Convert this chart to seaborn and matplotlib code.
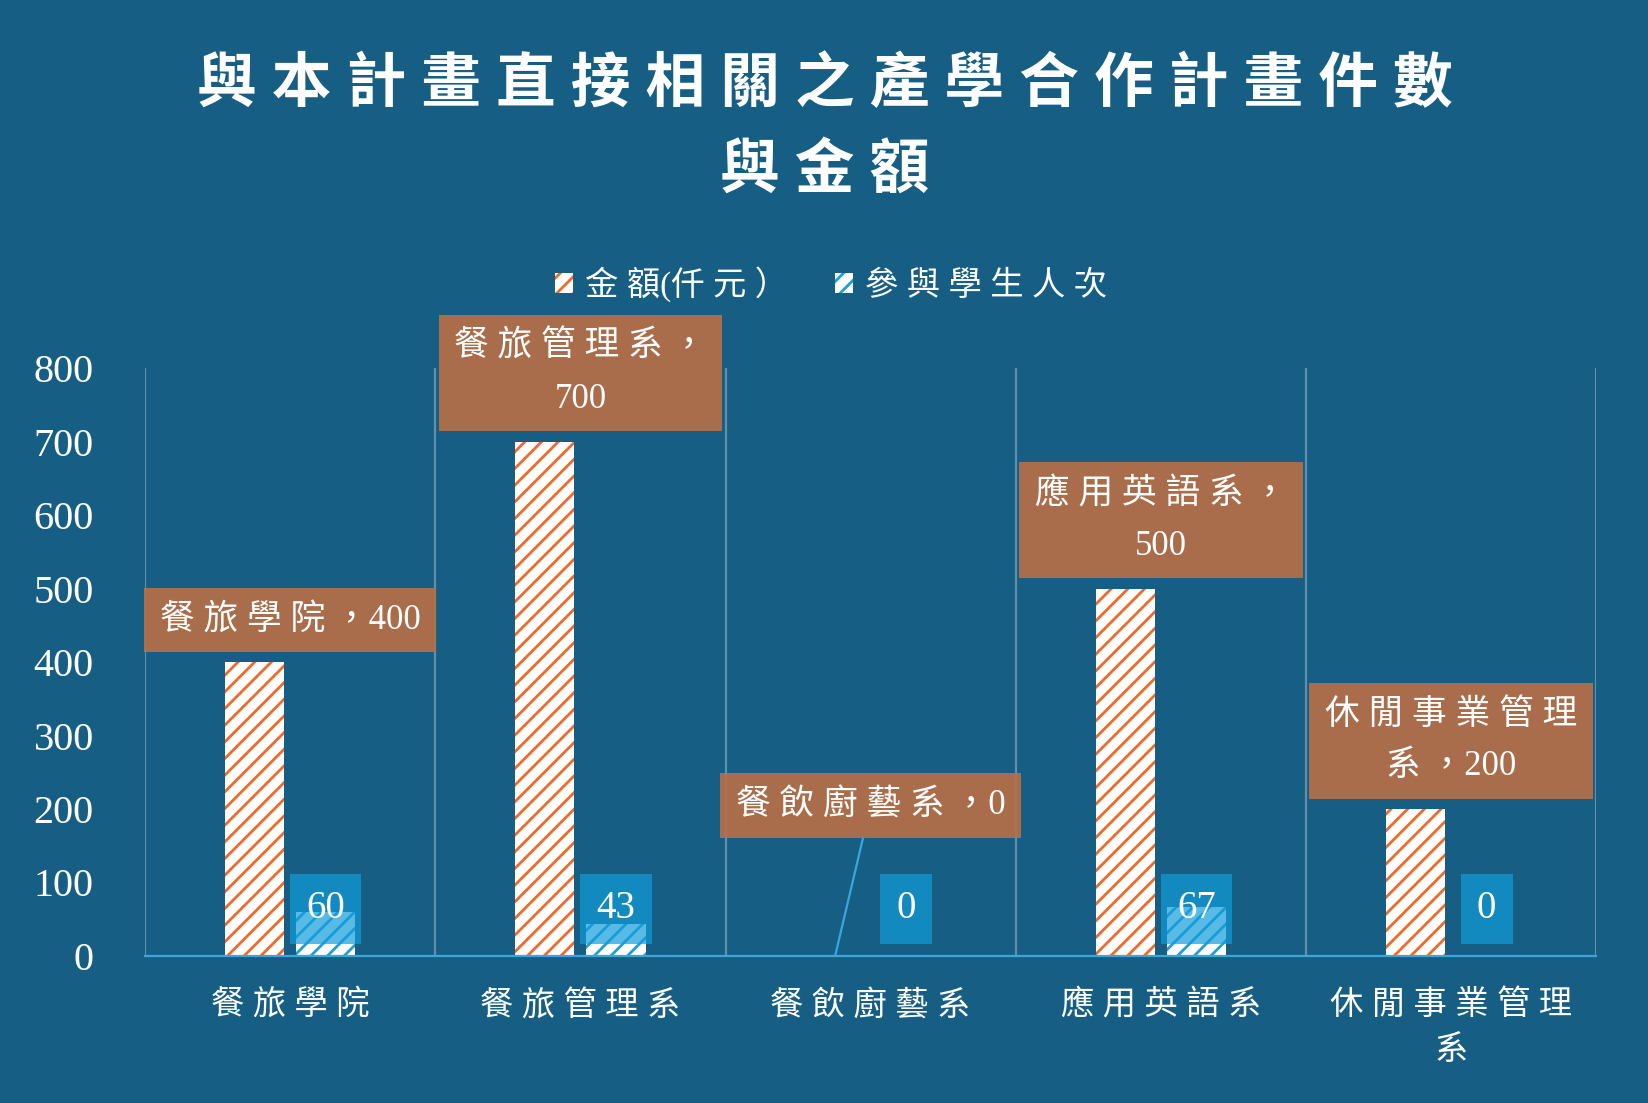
import matplotlib
matplotlib.use('Agg')
import matplotlib.pyplot as plt
import seaborn as sns
import pandas as pd
import numpy as np
from matplotlib.patches import Patch

# ---- data ----
categories = ['餐旅學院', '餐旅管理系', '餐飲廚藝系', '應用英語系', '休閒事業管理系']
amounts = [400, 700, 0, 500, 200]
students = [60, 43, 0, 67, 0]
series_names = ['金額(仟元）', '參與學生人次']
yticks = [0, 100, 200, 300, 400, 500, 600, 700, 800]
title_lines = ['與本計畫直接相關之產學合作計畫件數', '與金額']
label_wrap_at = [None, 6, None, 6, 6]
xlabel_wrap_at = [None, None, None, None, 6]

# ---- style ----
BG = '#165E83'
ORANGE = '#EE6A2B'
BLUE = '#1E9DDB'
GRID = '#6090AC'
AXIS = '#3AA6DC'
BROWN = '#B86F47'
LBLUE = '#129EDA'

sns.set_theme(style='white')
plt.rcParams['font.family'] = ['Liberation Serif', 'Noto Sans CJK TC', 'DejaVu Sans']
plt.rcParams['hatch.linewidth'] = 2.0


def sp(s):
    """letter-space CJK characters"""
    out = s[0]
    for prev, ch in zip(s, s[1:]):
        if ord(prev) > 0x2E80 and ord(ch) > 0x2E80:
            out += ' '
        out += ch
    return out


def wrap(s, w):
    if w is None:
        return sp(s)
    return sp(s[:w]) + '\n' + sp(s[w:])


df = pd.DataFrame({
    'category': categories * 2,
    'series': [series_names[0]] * len(categories) + [series_names[1]] * len(categories),
    'value': amounts + students,
})

fig = plt.figure(figsize=(16.49, 11.03), dpi=100, facecolor=BG)
ax = fig.add_axes([0.088, 0.1333, 0.880, 0.533])
ax.set_facecolor(BG)

sns.barplot(data=df, x='category', y='value', hue='series', hue_order=series_names,
            order=categories, width=0.49, gap=0.17, ax=ax, legend=False,
            palette=['white', 'white'], saturation=1, zorder=2)

hatch_colors = [ORANGE, BLUE]
for cont, hc in zip(ax.containers, hatch_colors):
    for bar in cont:
        bar.set_facecolor('white')
        bar.set_edgecolor(hc)
        bar.set_hatch('//')
        bar.set_linewidth(0)

ax.set_xlim(-0.5, len(categories) - 0.5)
ax.set_ylim(0, 800)
ax.set_yticks(yticks)
ax.set_yticklabels([str(t) for t in yticks], fontsize=29, color='white')
ax.set_xticks(range(len(categories)))
ax.set_xticklabels([wrap(c, w) for c, w in zip(categories, xlabel_wrap_at)],
                   fontsize=24, color='white', linespacing=1.6)
ax.tick_params(axis='y', length=0, pad=37)
ax.tick_params(axis='x', length=0, pad=24)
ax.set_xticks(np.arange(-0.5, len(categories)), minor=True)
ax.tick_params(axis='x', which='minor', length=0)
ax.grid(False)
ax.grid(which='minor', axis='x', color=GRID, lw=1.6, zorder=0)
ax.set_axisbelow(True)
for s in ['left', 'right', 'top']:
    ax.spines[s].set_visible(False)
ax.spines['bottom'].set_color(AXIS)
ax.spines['bottom'].set_linewidth(1.6)
ax.set_xlabel('')
ax.set_ylabel('')

# amount labels
amount_bars = ax.containers[0]
for i, (cat, val, w, bar) in enumerate(zip(categories, amounts, label_wrap_at, amount_bars)):
    bx = bar.get_x() + bar.get_width() / 2
    txt = wrap(f'{cat}，{val}', w)
    ytext = val + 35 if val > 0 else 182
    arrow = dict(arrowstyle='-', color=AXIS, lw=1.6, shrinkA=0, shrinkB=0) if val == 0 else None
    ax.annotate(txt, xy=(bx, val), xytext=(i, ytext), textcoords='data',
                ha='center', va='bottom', fontsize=25, color='white', linespacing=1.75,
                bbox=dict(boxstyle='square,pad=0.45', fc=BROWN, ec='none', alpha=0.92),
                arrowprops=arrow, annotation_clip=False, zorder=5)

# student labels
student_bars = ax.containers[1]
for val, bar in zip(students, student_bars):
    bx = bar.get_x() + bar.get_width() / 2
    ax.text(bx, 64, str(val), ha='center', va='center', fontsize=28, color='white',
            bbox=dict(boxstyle='square,pad=0.42', fc=LBLUE, ec='none', alpha=0.7), zorder=5)

# title
fig.text(0.5, 1 - 86 / 1103, sp(title_lines[0]), ha='center', va='center',
         fontsize=43, color='white', fontweight='bold')
fig.text(0.5, 1 - 172 / 1103, sp(title_lines[1]), ha='center', va='center',
         fontsize=43, color='white', fontweight='bold')

# legend
handles = [Patch(facecolor='white', edgecolor=hc, hatch='//', lw=0) for hc in hatch_colors]
fig.legend(handles, [sp(n) for n in series_names], loc='center',
           bbox_to_anchor=(0.504, 1 - 284 / 1103), ncol=2, frameon=False, fontsize=24,
           labelcolor='white', handlelength=0.55, handleheight=0.55,
           handletextpad=0.35, columnspacing=1.4)

fig.savefig('out.png', dpi=100, facecolor=BG)
